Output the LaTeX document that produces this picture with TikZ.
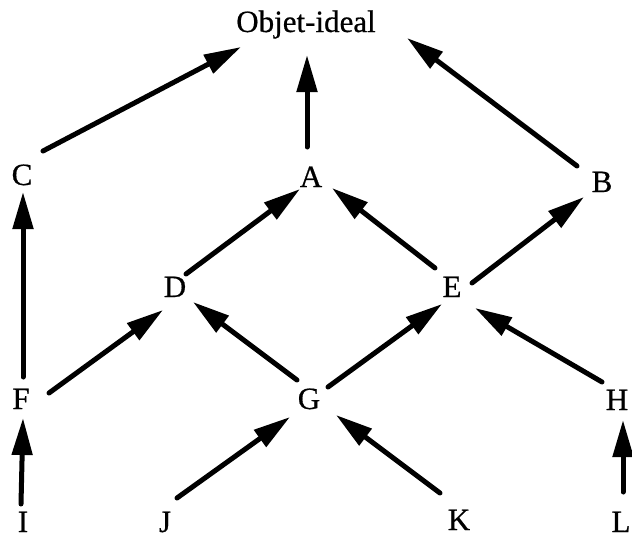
\documentclass[tikz,border=0pt]{standalone}
\usepackage{fontspec}
\setmainfont{Liberation Serif}[FakeBold=0.6]
\usetikzlibrary{arrows.meta}
\begin{document}
\begin{tikzpicture}[x=1pt,y=-1pt,
  lbl/.style={inner sep=0pt, anchor=center, text height=20pt, text depth=0pt,
    font=\fontsize{31}{31}\selectfont},
  arr/.style={line width=5pt, line cap=round, -{Triangle[length=37pt,width=20pt]}}]
\useasboundingbox (0,0) rectangle (632,538);
\node[lbl] (O) at (306,22) {Objet-ideal};
\node[lbl] (C) at (22,175) {C};
\node[lbl] (A) at (311,177) {A};
\node[lbl] (B) at (602,182) {B};
\node[lbl] (D) at (175,287) {D};
\node[lbl] (E) at (452,287) {E};
\node[lbl] (F) at (21,399) {F};
\node[lbl] (G) at (309,399) {G};
\node[lbl] (H) at (617,400) {H};
\node[lbl] (I) at (23,522) {I};
\node[lbl] (J) at (165,522) {J};
\node[lbl] (K) at (459,520) {K};
\node[lbl] (L) at (621,522) {L};
\draw[arr] ([shift={(21,-24)}]C.center) -- ([shift={(-65,25)}]O.center);
\draw[arr] ([shift={(-4,-30)}]A.center) -- ([shift={(1,33)}]O.center);
\draw[arr] ([shift={(-25,-16)}]B.center) -- ([shift={(101,16)}]O.center);
\draw[arr] ([shift={(11,-13)}]D.center) -- ([shift={(-11,12)}]A.center);
\draw[arr] ([shift={(-17,-19)}]E.center) -- ([shift={(21,11)}]A.center);
\draw[arr] ([shift={(20,-4)}]E.center) -- ([shift={(-18,15)}]B.center);
\draw[arr] ([shift={(2,-22)}]F.center) -- ([shift={(1,17)}]C.center);
\draw[arr] ([shift={(28,-6)}]F.center) -- ([shift={(-12,23)}]D.center);
\draw[arr] ([shift={(-12,-19)}]G.center) -- ([shift={(18,15)}]D.center);
\draw[arr] ([shift={(19,-12)}]G.center) -- ([shift={(-10,17)}]E.center);
\draw[arr] ([shift={(-15,-18)}]H.center) -- ([shift={(23,21)}]E.center);
\draw[arr] ([shift={(-2,-18)}]I.center) -- ([shift={(2,19)}]F.center);
\draw[arr] ([shift={(12,-24)}]J.center) -- ([shift={(-19,18)}]G.center);
\draw[arr] ([shift={(-19,-27)}]K.center) -- ([shift={(27,16)}]G.center);
\draw[arr] ([shift={(2,-30)}]L.center) -- ([shift={(6,20)}]H.center);
\end{tikzpicture}
\end{document}
